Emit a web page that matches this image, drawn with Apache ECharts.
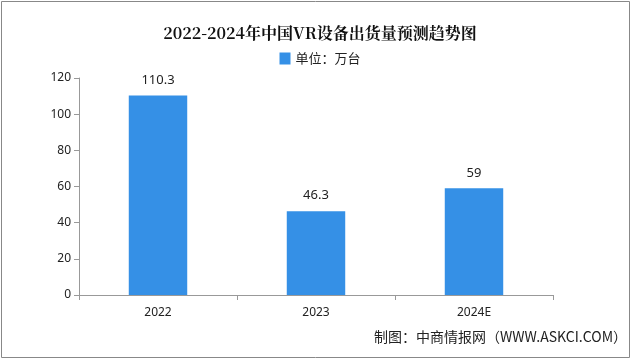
<!DOCTYPE html>
<html><head><meta charset="utf-8">
<script src="https://cdn.jsdelivr.net/npm/echarts@6/dist/echarts.min.js"></script>
<style>html,body{margin:0;padding:0;background:#fff}#c{width:640px;height:358px}</style>
</head><body><div id="c"></div>
<script>
const categories = ['2022', '2023', '2024E'];
const values = [110.3, 46.3, 59];
const yTicks = [0, 20, 40, 60, 80, 100, 120];
const titleText = '2022-2024年中国VR设备出货量预测趋势图';
const seriesName = '单位：万台';
const sourceText = '制图：中商情报网（WWW.ASKCI.COM）';

const chart = echarts.init(document.getElementById('c'));
chart.setOption({
  backgroundColor: '#fff',
  animation: false,
  title: {
    text: titleText, left: 'center', top: 20,
    textStyle: {fontFamily: 'Noto Serif CJK SC, Noto Sans CJK SC', fontSize: 16, fontWeight: 'bold', color: '#111'}
  },
  legend: {
    data: [seriesName], top: 47, left: 'center', itemWidth: 11, itemHeight: 12, itemGap: 4,
    icon: 'rect',
    textStyle: {fontFamily: 'Noto Sans CJK SC', fontSize: 13, color: '#222'}
  },
  graphic: [
    {type: 'rect', shape: {x: 1.5, y: 1.5, width: 628, height: 356}, style: {fill: 'none', stroke: '#888', lineWidth: 1}},
    {type: 'text', right: 13, top: 330, style: {text: sourceText, font: '14px "Noto Sans CJK SC"', fill: '#222'}}
  ],
  grid: {left: 79, right: 87, top: 78, bottom: 63},
  xAxis: {
    type: 'category', data: categories,
    axisLine: {lineStyle: {color: '#999'}},
    axisTick: {show: true, length: 5, lineStyle: {color: '#999'}},
    axisLabel: {color: '#222', fontSize: 12, margin: 12, fontFamily: 'Noto Sans'}
  },
  yAxis: {
    type: 'value', min: yTicks[0], max: yTicks[yTicks.length - 1], interval: 20,
    axisLine: {show: true, lineStyle: {color: '#999'}},
    axisTick: {show: true, length: 5, lineStyle: {color: '#999'}},
    splitLine: {show: false},
    axisLabel: {color: '#222', fontSize: 12, margin: 8, fontFamily: 'Noto Sans'}
  },
  series: [{
    name: seriesName, type: 'bar', data: values, barWidth: '37%',
    itemStyle: {color: '#3590e6'},
    label: {show: true, position: 'top', distance: 9, color: '#222', fontSize: 13, fontFamily: 'Noto Sans'}
  }]
});
</script></body></html>
